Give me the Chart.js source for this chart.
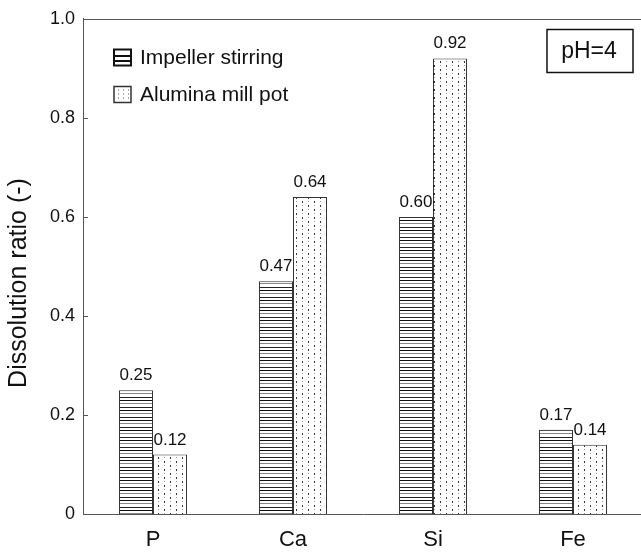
<!DOCTYPE html>
<html lang="en">
<head>
    <meta charset="UTF-8">
    <title>Dissolution ratio</title>
    <script src="https://cdn.jsdelivr.net/npm/chart.js"></script>
    <style>
        html, body {
            margin: 0;
            padding: 0;
            overflow: hidden;
            background: #fff;
        }
        #wrap {
            width: 643px;
            height: 556px;
        }
    </style>
</head>
<body>
    <div id="wrap"><canvas id="chart"></canvas></div>

    <script>
        const elements = ['P', 'Ca', 'Si', 'Fe'];
        const impellerValues = [0.25, 0.47, 0.60, 0.17];
        const aluminaValues = [0.12, 0.64, 0.92, 0.14];
        const seriesNames = ['Impeller stirring', 'Alumina mill pot'];
        const yTicks = [0, 0.2, 0.4, 0.6, 0.8, 1.0];
        const yTitle = 'Dissolution ratio (-)';
        const boxText = 'pH=4';

        const FONT = '"Liberation Sans", Arial, sans-serif';

        // fill patterns for the two series
        function stripePattern() {
            const c = document.createElement('canvas');
            c.width = 10; c.height = 10;
            const g = c.getContext('2d');
            g.fillStyle = '#fff';
            g.fillRect(0, 0, 10, 10);
            g.fillStyle = '#111';
            g.fillRect(0, 0, 10, 1);
            g.fillStyle = '#888';
            g.fillRect(0, 3, 10, 1);
            g.fillStyle = '#222';
            g.fillRect(0, 7, 10, 1);
            return g.createPattern(c, 'repeat');
        }

        function dotPattern() {
            const c = document.createElement('canvas');
            c.width = 12; c.height = 8;
            const g = c.getContext('2d');
            g.fillStyle = '#fff';
            g.fillRect(0, 0, 12, 8);
            g.fillStyle = '#333';
            g.fillRect(2, 1, 1, 2);
            g.fillRect(8, 5, 1, 2);
            g.fillStyle = '#999';
            g.fillRect(8, 1, 1, 1);
            g.fillRect(2, 5, 1, 1);
            return g.createPattern(c, 'repeat');
        }

        const stripes = stripePattern();
        const dots = dotPattern();

        // legend icons drawn by hand, a bit coarser than the bar fill
        function legendIcon(ctx, kind, x, y, w, h) {
            ctx.fillStyle = '#fff';
            ctx.fillRect(x, y, w, h);
            if (kind === 0) {
                ctx.fillStyle = '#111';
                [1, 2].forEach(k => ctx.fillRect(x, Math.round(y + h * k / 3), w, 2));
                ctx.strokeStyle = '#111';
                ctx.lineWidth = 2;
            } else {
                ctx.fillStyle = '#555';
                for (let yy = y + 3; yy < y + h - 1; yy += 4) {
                    for (let xx = x + 4; xx < x + w - 2; xx += 5) {
                        ctx.fillRect(xx, yy, 1, 1);
                    }
                }
                ctx.strokeStyle = '#333';
                ctx.lineWidth = 1.5;
            }
            ctx.strokeRect(x, y, w, h);
        }

        const extras = {
            id: 'extras',
            afterDatasetsDraw(chart) {
                const ctx = chart.ctx;
                const area = chart.chartArea;
                const y = chart.scales.y;
                ctx.save();

                // top frame line
                ctx.strokeStyle = '#555';
                ctx.lineWidth = 1;
                ctx.beginPath();
                ctx.moveTo(area.left, Math.round(area.top) + 0.5);
                ctx.lineTo(area.right, Math.round(area.top) + 0.5);
                ctx.stroke();

                // inward ticks on y axis
                yTicks.forEach(v => {
                    const py = Math.round(y.getPixelForValue(v)) + 0.5;
                    ctx.beginPath();
                    ctx.moveTo(area.left, py);
                    ctx.lineTo(area.left + 5, py);
                    ctx.stroke();
                });

                // value labels above bars
                ctx.fillStyle = '#111';
                ctx.font = '17px ' + FONT;
                ctx.textAlign = 'center';
                ctx.textBaseline = 'alphabetic';
                chart.data.datasets.forEach((ds, i) => {
                    chart.getDatasetMeta(i).data.forEach((bar, j) => {
                        ctx.fillText(ds.data[j].toFixed(2), bar.x, bar.y - 10);
                    });
                });

                // legend
                ctx.font = '21px ' + FONT;
                ctx.textAlign = 'left';
                ctx.textBaseline = 'middle';
                seriesNames.forEach((name, i) => {
                    const ly = 57.5 + i * 37;
                    legendIcon(ctx, i, 114, ly - 8, 17, 16);
                    ctx.fillStyle = '#111';
                    ctx.fillText(name, 140, ly + 1);
                });

                // pH box
                ctx.strokeStyle = '#111';
                ctx.lineWidth = 1.5;
                ctx.strokeRect(547, 29.5, 86, 43);
                ctx.fillStyle = '#111';
                ctx.font = '23px ' + FONT;
                ctx.textAlign = 'center';
                ctx.fillText(boxText, 589, 52);

                // y axis title
                ctx.translate(19, 283);
                ctx.rotate(-Math.PI / 2);
                ctx.font = '25px ' + FONT;
                ctx.textBaseline = 'middle';
                ctx.fillText(yTitle, 0, 0);

                ctx.restore();
            }
        };

        new Chart(document.getElementById('chart'), {
            type: 'bar',
            data: {
                labels: elements,
                datasets: [
                    {
                        label: seriesNames[0],
                        data: impellerValues,
                        backgroundColor: stripes,
                        borderColor: '#333',
                        borderWidth: 1,
                        borderSkipped: 'bottom'
                    },
                    {
                        label: seriesNames[1],
                        data: aluminaValues,
                        backgroundColor: dots,
                        borderColor: '#333',
                        borderWidth: 1,
                        borderSkipped: 'bottom'
                    }
                ]
            },
            options: {
                responsive: true,
                maintainAspectRatio: false,
                animation: false,
                devicePixelRatio: 1,
                layout: { padding: { top: 18, right: 0, left: 0, bottom: 0 } },
                datasets: {
                    bar: { categoryPercentage: 0.486, barPercentage: 1.0 }
                },
                plugins: {
                    legend: { display: false },
                    tooltip: { enabled: false }
                },
                scales: {
                    x: {
                        grid: { display: false, drawTicks: false },
                        border: { display: true, color: '#555', width: 1 },
                        ticks: {
                            color: '#111',
                            padding: 13,
                            font: { family: FONT, size: 22 }
                        },
                        afterFit(scale) { scale.height = 42; }
                    },
                    y: {
                        min: 0,
                        max: 1,
                        afterBuildTicks(scale) {
                            scale.ticks = yTicks.map(v => ({ value: v }));
                        },
                        grid: { display: false, drawTicks: false },
                        border: { display: true, color: '#555', width: 1 },
                        ticks: {
                            color: '#111',
                            padding: 8,
                            font: { family: FONT, size: 18 },
                            callback: v => (v === 0 ? '0' : v.toFixed(1))
                        },
                        afterFit(scale) { scale.width = 83; }
                    }
                }
            },
            plugins: [extras]
        });
    </script>
</body>
</html>
